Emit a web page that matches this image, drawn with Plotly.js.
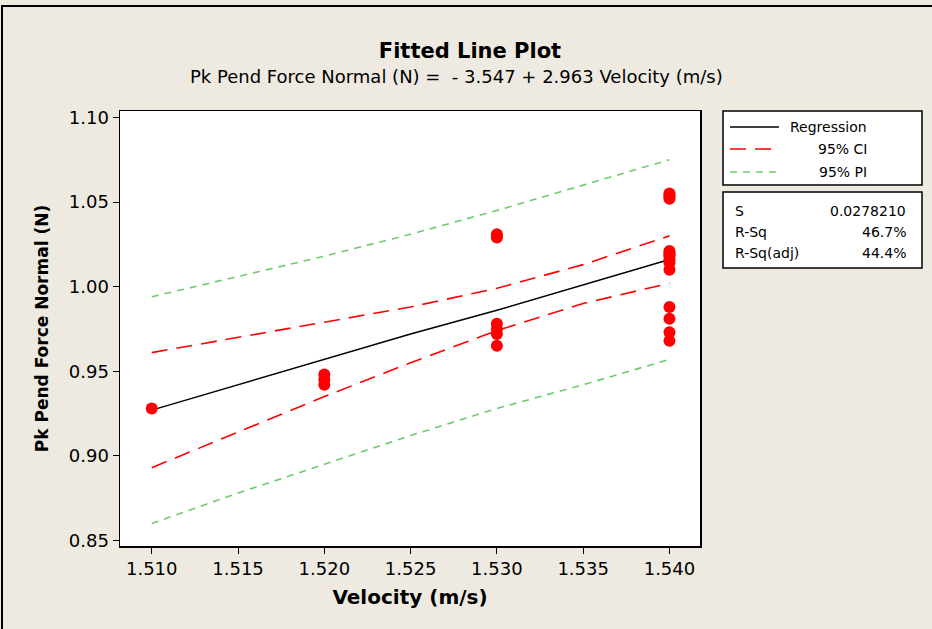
<!DOCTYPE html>
<html>
<head>
<meta charset="utf-8">
<script src="https://cdn.plot.ly/plotly-3.0.1.min.js"></script>
<style>
  html, body { margin: 0; padding: 0; background: #EEEAE1; overflow: hidden; width: 932px; height: 629px; }
  #chart { width: 932px; height: 629px; }
  #frame { position: absolute; left: 1px; top: 5px; width: 929px; height: 622px;
           border-top: 2px solid #000; border-left: 2px solid #000; pointer-events: none; }
</style>
</head>
<body>
<div id="chart"></div>
<div id="frame"></div>
<script>
// ---- data ----
const obsVelocity = [1.510,
  1.520, 1.520, 1.520,
  1.530, 1.530, 1.530, 1.530, 1.530, 1.530,
  1.540, 1.540, 1.540, 1.540, 1.540, 1.540, 1.540, 1.540, 1.540, 1.540, 1.540, 1.540, 1.540, 1.540, 1.540];
const obsForce = [0.928,
  0.948, 0.945, 0.942,
  1.031, 1.029, 0.978, 0.975, 0.972, 0.965,
  1.055, 1.054, 1.053, 1.052, 1.021, 1.020, 1.019, 1.018, 1.016, 1.014, 1.010, 0.988, 0.981, 0.973, 0.968];

const fitVelocity = [1.510, 1.515, 1.520, 1.525, 1.530, 1.535, 1.540];
const regression  = [0.927, 0.942, 0.957, 0.972, 0.986, 1.001, 1.016];
const ciUpper     = [0.961, 0.970, 0.979, 0.988, 0.999, 1.013, 1.030];
const ciLower     = [0.893, 0.914, 0.935, 0.955, 0.974, 0.990, 1.002];
const piUpper     = [0.994, 1.006, 1.018, 1.031, 1.045, 1.060, 1.075];
const piLower     = [0.860, 0.878, 0.895, 0.912, 0.928, 0.942, 0.957];

const legendLabels = ['Regression', '95% CI', '95% PI'];
const statLabels = ['S', 'R-Sq', 'R-Sq(adj)'];
const statValues = ['0.0278210', '46.7%', '44.4%'];

const titleText = 'Fitted Line Plot';
const subtitleText = 'Pk Pend Force Normal (N) =  - 3.547 + 2.963 Velocity (m/s)';
const xTitle = 'Velocity (m/s)';
const yTitle = 'Pk Pend Force Normal (N)';

// ---- layout geometry ----
const W = 932, H = 629;
const PL = 120, PR = 700, PT = 111, PB = 546;
const px = x => (x - PL) / (PR - PL);
const py = y => (PB - y) / (PB - PT);

const FONT = 'DejaVu Sans, Verdana, sans-serif';
const RED = '#FF0000', GREEN = '#6DCB6D';

const lineStyles = [
  {color: '#000000', width: 1.5, dash: 'solid'},
  {color: RED, width: 1.6, dash: '16px,9px'},
  {color: GREEN, width: 1.6, dash: '7px,6px'}
];

const traces = [
  {x: fitVelocity, y: piUpper, mode: 'lines', line: lineStyles[2], hoverinfo: 'skip'},
  {x: fitVelocity, y: piLower, mode: 'lines', line: lineStyles[2], hoverinfo: 'skip'},
  {x: fitVelocity, y: ciUpper, mode: 'lines', line: lineStyles[1], hoverinfo: 'skip'},
  {x: fitVelocity, y: ciLower, mode: 'lines', line: lineStyles[1], hoverinfo: 'skip'},
  {x: fitVelocity, y: regression, mode: 'lines', line: lineStyles[0]},
  {x: obsVelocity, y: obsForce, mode: 'markers',
   marker: {color: RED, size: 12, line: {width: 0}}}
];

const shapes = [];
const annotations = [];
const LEGFONT = {family: FONT, size: 14, color: '#000'};

// legend box
shapes.push({type: 'rect', xref: 'paper', yref: 'paper',
  x0: px(723), x1: px(922), y0: py(185), y1: py(111),
  line: {color: '#000', width: 1.5}, fillcolor: '#FFFFFF', layer: 'below'});
const legY = [127, 149, 172];
legendLabels.forEach((lab, i) => {
  shapes.push({type: 'line', xref: 'paper', yref: 'paper',
    x0: px(730), x1: px(779), y0: py(legY[i]), y1: py(legY[i]),
    line: lineStyles[i]});
  annotations.push({text: lab, xref: 'paper', yref: 'paper', x: px(869), y: py(legY[i]),
    xanchor: 'right', yanchor: 'middle', showarrow: false, font: LEGFONT});
});

// stats box
shapes.push({type: 'rect', xref: 'paper', yref: 'paper',
  x0: px(723), x1: px(922), y0: py(268), y1: py(192),
  line: {color: '#000', width: 1.5}, fillcolor: '#FFFFFF', layer: 'below'});
const statY = [211, 232, 253];
statLabels.forEach((lab, i) => {
  annotations.push({text: lab, xref: 'paper', yref: 'paper', x: px(733), y: py(statY[i]),
    xanchor: 'left', yanchor: 'middle', showarrow: false, font: LEGFONT});
  annotations.push({text: statValues[i], xref: 'paper', yref: 'paper', x: px(908), y: py(statY[i]),
    xanchor: 'right', yanchor: 'middle', showarrow: false, font: LEGFONT});
});

// subtitle
annotations.push({text: subtitleText, xref: 'paper', yref: 'paper', x: px(456), y: py(77),
  xanchor: 'center', yanchor: 'middle', showarrow: false,
  font: {family: FONT, size: 18, color: '#000'}});

const axisCommon = {
  showline: true, mirror: true, linecolor: '#000', linewidth: 1.5,
  ticks: 'outside', ticklen: 6, tickwidth: 1, tickcolor: '#000',
  showgrid: false, zeroline: false,
  tickfont: {family: FONT, size: 18, color: '#000'}
};

const layout = {
  width: W, height: H,
  paper_bgcolor: '#EEEAE1', plot_bgcolor: '#FFFFFF',
  margin: {l: PL, r: W - PR, t: PT, b: H - PB, pad: 0},
  showlegend: false,
  title: {text: titleText, x: 470 / W, xanchor: 'center', xref: 'container',
          y: 1 - 51 / H, yanchor: 'middle', yref: 'container',
          font: {family: FONT, size: 21, weight: 'bold', color: '#000'}},
  xaxis: Object.assign({}, axisCommon, {
    range: [1.50816, 1.54177], tick0: 1.510, dtick: 0.005, tickformat: '.3f',
    title: {text: xTitle, standoff: 12, font: {family: FONT, size: 20, weight: 'bold', color: '#000'}}
  }),
  yaxis: Object.assign({}, axisCommon, {
    range: [0.8467, 1.1038], tick0: 0.85, dtick: 0.05, tickformat: '.2f',
    title: {text: yTitle, standoff: 16, font: {family: FONT, size: 17, weight: 'bold', color: '#000'}}
  }),
  shapes: shapes,
  annotations: annotations
};

Plotly.newPlot('chart', traces, layout, {staticPlot: true, displayModeBar: false});
</script>
</body>
</html>
